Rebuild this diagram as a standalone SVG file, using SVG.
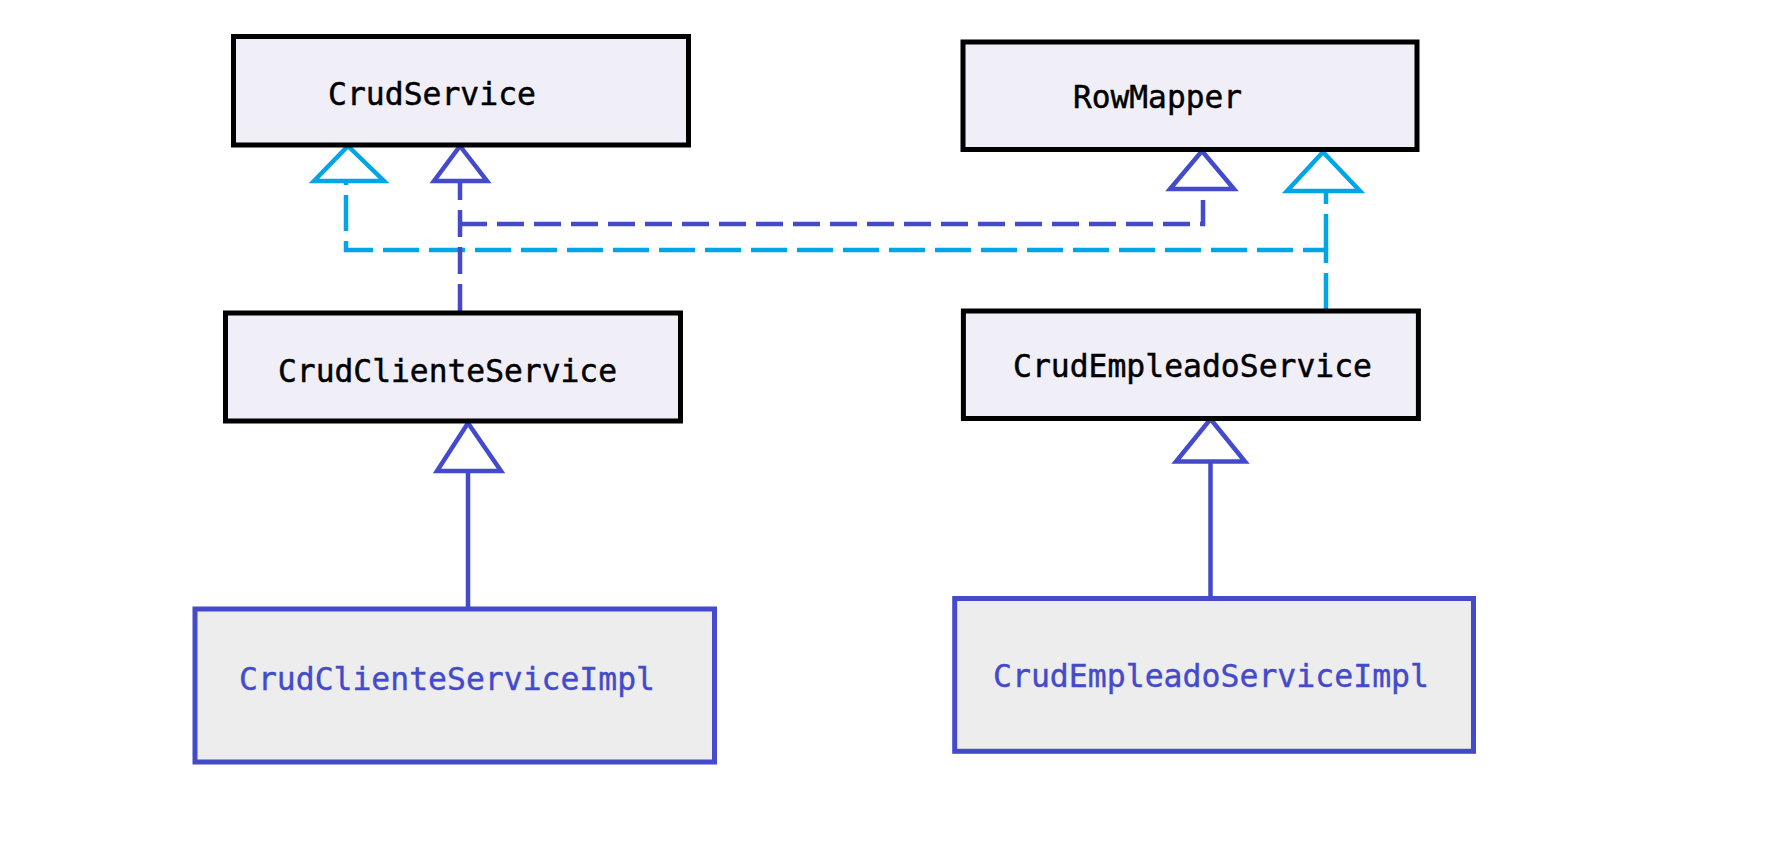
<svg xmlns="http://www.w3.org/2000/svg" width="1778" height="842" viewBox="0 0 1778 842">
<style>
.iface rect{fill:#F0EFF8;stroke:#000;stroke-width:5}
.impl rect{fill:#EDEDED;stroke:#434ACC;stroke-width:5}
text{font-family:"DejaVu Sans Mono","Liberation Mono",monospace;font-size:31.5px}
.iface text{fill:#000;stroke:#000;stroke-width:0.5}
.impl text{fill:#434ACC;stroke:#434ACC;stroke-width:0.4}
.dk{stroke:#434ACC;stroke-width:4.5;fill:none}
.lt{stroke:#00A5E8;stroke-width:4.5;fill:none}
.dash-dk{stroke-dasharray:27 10}
.dash-lt{stroke-dasharray:36 10}
.head{fill:#fff;stroke-linejoin:miter}
</style>
<rect width="1778" height="842" fill="#fff"/>
<g id="connectors">
  <path class="lt dash-lt" d="M1326,309 L1326,250 L346,250 L346,181"/>
  <path class="lt dash-lt" d="M1326,250 L1326,191"/>
  <path class="dk dash-dk" d="M460,311 L460,181"/>
  <path class="dk dash-dk" d="M460,224 L1203,224 L1203,189"/>
  <path class="dk" d="M468,609 L468,471"/>
  <path class="dk" d="M1210.5,598 L1210.5,461.5"/>
  <polygon class="lt head" points="348,146 384,181 314,181"/>
  <polygon class="dk head" points="460,146 487,181 434,181"/>
  <polygon class="dk head" points="1202,151 1234,189 1170,189"/>
  <polygon class="lt head" points="1323,152 1360,191 1287,191"/>
  <polygon class="dk head" points="468,423 501,471 437,471"/>
  <polygon class="dk head" points="1210.5,419 1245,461.5 1176,461.5"/>
</g>
<g id="CrudService" class="iface">
  <rect x="233.5" y="36.5" width="455" height="108.5"/>
  <text x="328" y="105" textLength="208" lengthAdjust="spacingAndGlyphs">CrudService</text>
</g>
<g id="RowMapper" class="iface">
  <rect x="963" y="42" width="454" height="107.5"/>
  <text x="1073" y="108" textLength="169" lengthAdjust="spacingAndGlyphs">RowMapper</text>
</g>
<g id="CrudClienteService" class="iface">
  <rect x="225.5" y="313" width="455" height="108"/>
  <text x="278" y="382" textLength="339" lengthAdjust="spacingAndGlyphs">CrudClienteService</text>
</g>
<g id="CrudEmpleadoService" class="iface">
  <rect x="963.4" y="311" width="455" height="107.5"/>
  <text x="1013" y="377" textLength="359" lengthAdjust="spacingAndGlyphs">CrudEmpleadoService</text>
</g>
<g id="CrudClienteServiceImpl" class="impl">
  <rect x="195" y="609" width="519.5" height="153"/>
  <text x="239" y="690" textLength="416" lengthAdjust="spacingAndGlyphs">CrudClienteServiceImpl</text>
</g>
<g id="CrudEmpleadoServiceImpl" class="impl">
  <rect x="954.7" y="598.5" width="518.8" height="152.8"/>
  <text x="993" y="687" textLength="436" lengthAdjust="spacingAndGlyphs">CrudEmpleadoServiceImpl</text>
</g>
</svg>
